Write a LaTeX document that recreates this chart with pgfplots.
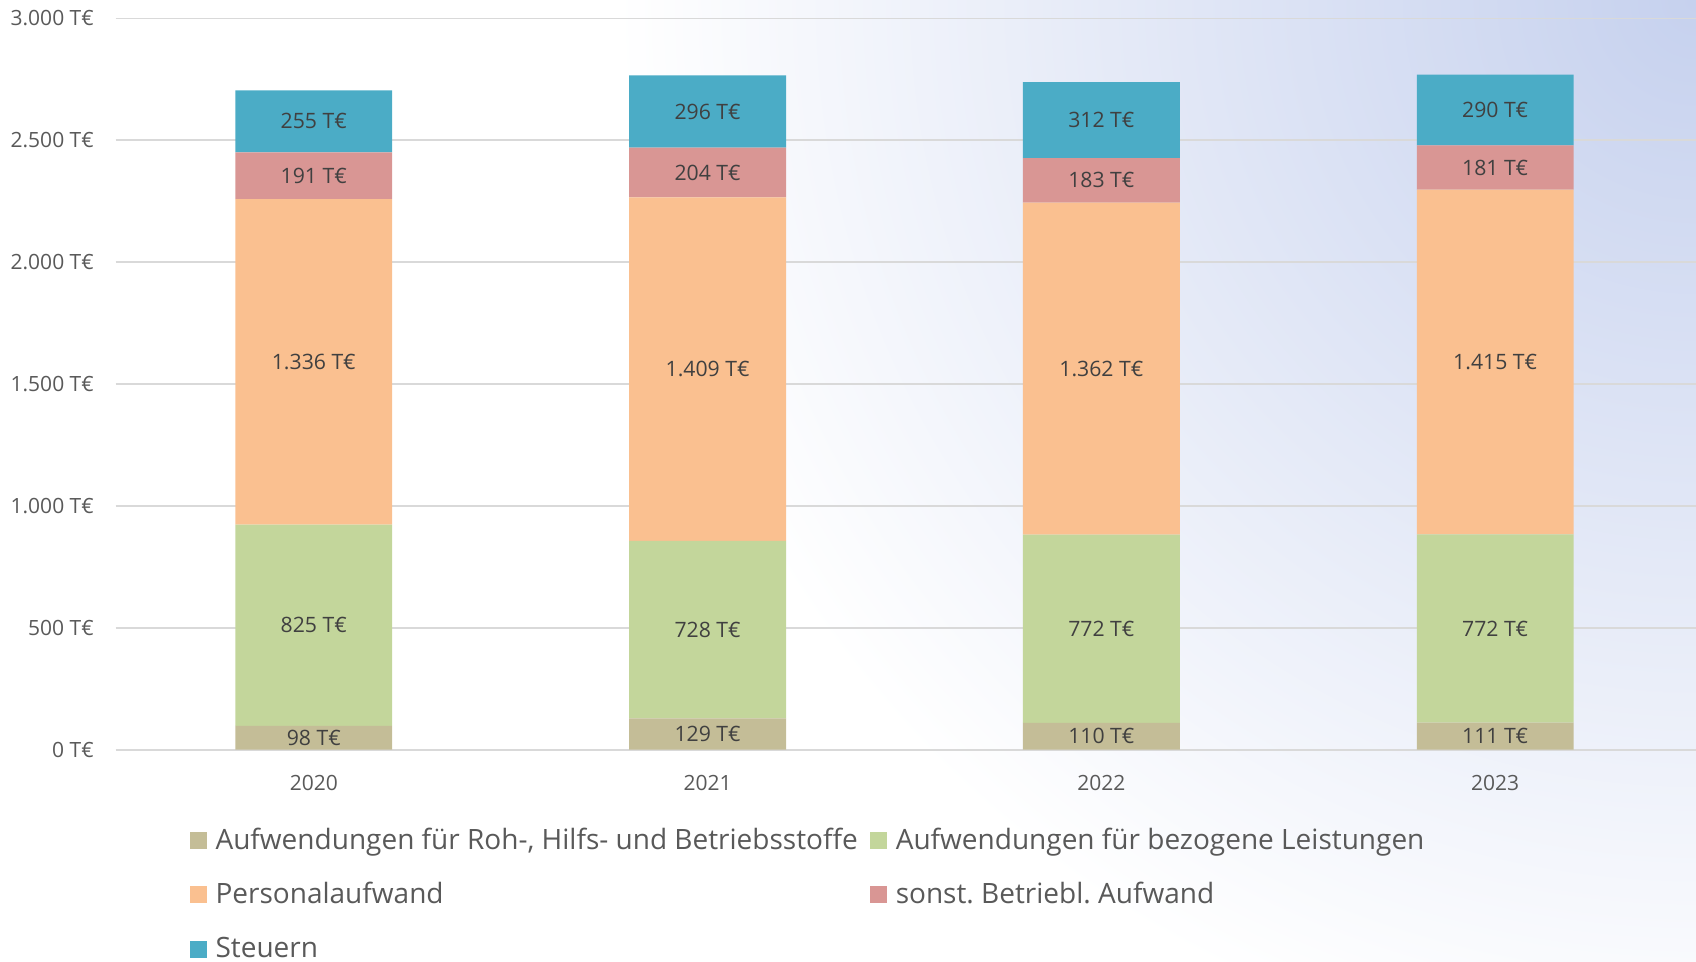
\documentclass[border=0pt]{standalone}
\usepackage{pgfplots}
\pgfplotsset{compat=1.18}
\usepackage{fontspec}
\setmainfont{Open Sans}
\frenchspacing
\definecolor{cRoh}{HTML}{C4BD97}
\definecolor{cBez}{HTML}{C3D69B}
\definecolor{cPers}{HTML}{FAC090}
\definecolor{cSonst}{HTML}{D99694}
\definecolor{cSt}{HTML}{4BACC6}
\definecolor{txt}{HTML}{595959}
\definecolor{lbl}{HTML}{404040}
\definecolor{grd}{HTML}{D9D9D9}
\definecolor{bgblue}{HTML}{C6D1EE}
\pgfplotsset{sq legend/.style={legend image code/.code={\fill[##1] (0pt,-4.25pt) rectangle (8.5pt,4.25pt);}}}
\begin{document}
\begin{tikzpicture}
\begin{scope}
\clip (-57.85pt,-105.7pt) rectangle (790pt,374.8pt);
\shade[inner color=bgblue, outer color=white] (790pt,374.8pt) circle (540pt);
\end{scope}
\begin{axis}[
  scale only axis, width=790pt, height=365.6pt,
  xmin=-0.503, xmax=3.51, ymin=0, ymax=3000,
  ybar stacked, bar width=78.4pt,
  axis line style={draw=none},
  ymajorgrids, grid style={grd, line width=0.85pt},
  major tick length=0pt,
  xtick={0,1,2,3}, xticklabels={2020,2021,2022,2023},
  ytick={0,500,1000,1500,2000,2500,3000},
  yticklabel={\pgfmathprintnumber[fixed,precision=0,1000 sep={.}]{\tick}~T€},
  /pgf/number format/assume math mode=true,
  yticklabel style={anchor=east, inner sep=0pt, xshift=-10.8pt, text=txt, font=\fontsize{10.5}{13}\selectfont},
  xticklabel style={anchor=north, inner sep=0pt, yshift=-12.5pt, text=txt, font=\fontsize{10.5}{12}\selectfont},
  visualization depends on={rawy \as \rawy},
  nodes near coords={\pgfmathprintnumber[fixed,precision=0,1000 sep={.}]{\rawy}~T€},
  every node near coord/.append style={anchor=center, inner sep=0pt, text=lbl, font=\fontsize{10.6}{13}\selectfont},
  legend columns=2, legend cell align=left,
  legend style={at={(0,0)}, anchor=north west, xshift=36.7pt, yshift=-37.5pt,
    draw=none, fill=none, inner sep=0pt, row sep=11.6pt, column sep=2.5pt,
    /tikz/every even column/.append style={column sep=4pt},
    font=\fontsize{14}{16}\selectfont, text=txt,
    cells={anchor=west, inner sep=0pt, text height=10pt, text depth=0pt}},
]
\addplot[fill=cRoh, draw=none, sq legend] coordinates {(0,98) (1,129) (2,110) (3,111)};
\addlegendentry{Aufwendungen für Roh-, Hilfs- und Betriebsstoffe}
\addplot[fill=cBez, draw=none, sq legend] coordinates {(0,825) (1,728) (2,772) (3,772)};
\addlegendentry{Aufwendungen für bezogene Leistungen}
\addplot[fill=cPers, draw=none, sq legend] coordinates {(0,1336) (1,1409) (2,1362) (3,1415)};
\addlegendentry{Personalaufwand}
\addplot[fill=cSonst, draw=none, sq legend] coordinates {(0,191) (1,204) (2,183) (3,181)};
\addlegendentry{sonst. Betriebl. Aufwand}
\addplot[fill=cSt, draw=none, sq legend] coordinates {(0,255) (1,296) (2,312) (3,290)};
\addlegendentry{Steuern}
\end{axis}
\pgfresetboundingbox
\path (-57.85pt,-105.7pt) rectangle (790pt,374.8pt);
\end{tikzpicture}
\end{document}
